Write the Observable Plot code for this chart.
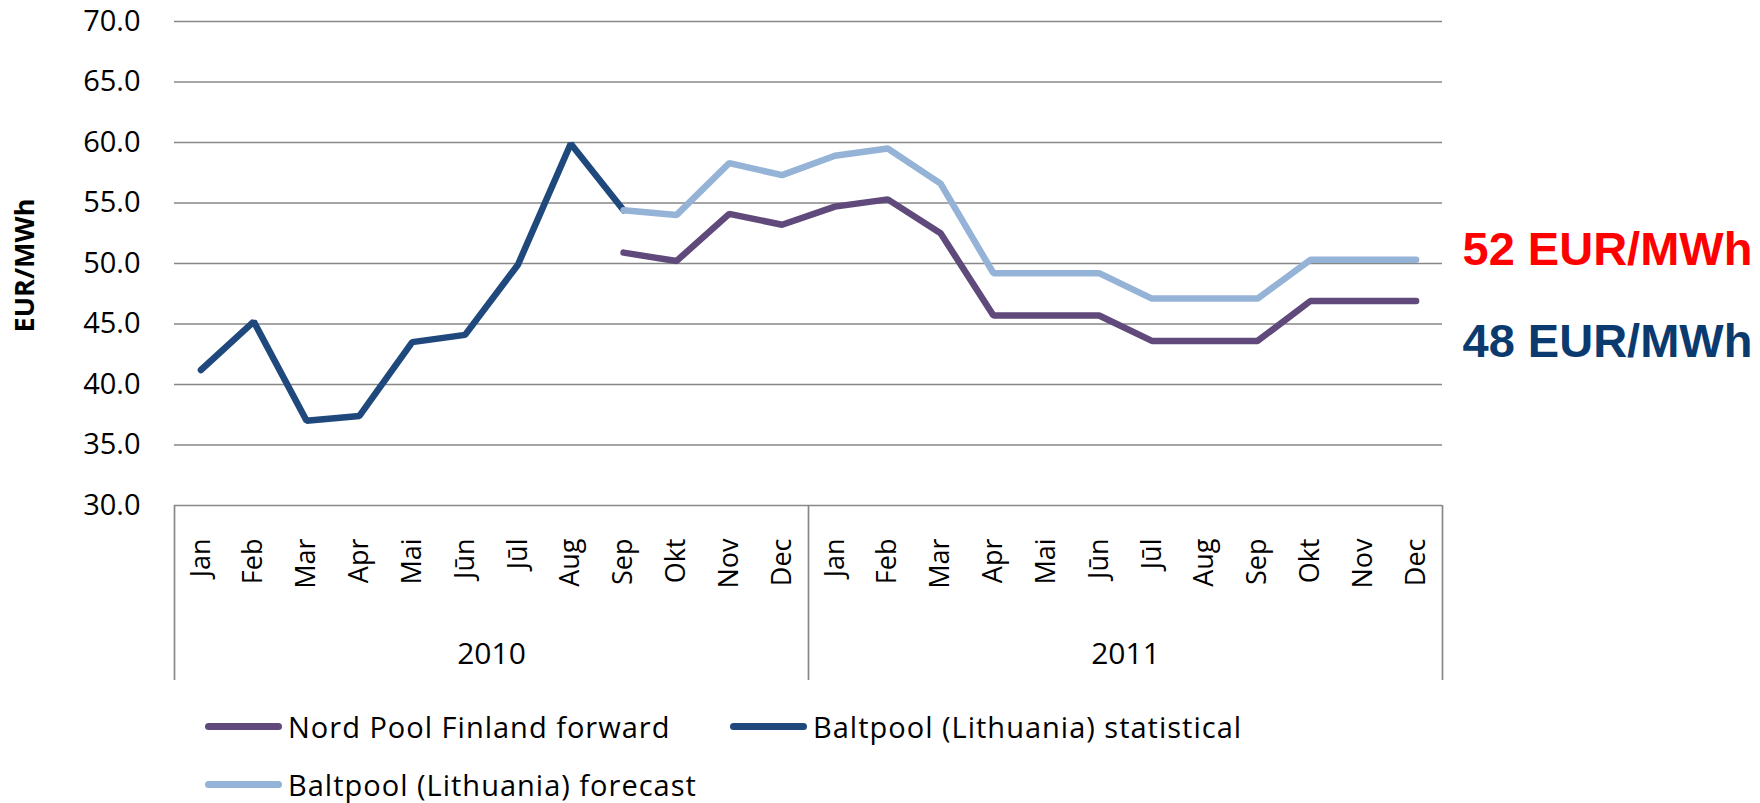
<!DOCTYPE html>
<html>
<head>
<meta charset="utf-8">
<script src="https://cdn.jsdelivr.net/npm/d3@7"></script>
<script src="https://cdn.jsdelivr.net/npm/@observablehq/plot@0.6"></script>
<style>
  html, body { margin: 0; padding: 0; background: #fff; }
  body { width: 1760px; height: 803px; overflow: hidden; font-family: "Open Sans", sans-serif; }
  #legend { position: relative; width: 1760px; height: 113px; }
  .item { position: absolute; display: flex; align-items: center; height: 40px; font-size: 29px; letter-spacing: 1px; color: #000; white-space: nowrap; }
  .sw { width: 77px; height: 7px; border-radius: 4px; margin-right: 6px; }
</style>
</head>
<body>
<div id="chart"></div>
<div id="legend"></div>
<script>
// ---- data ----
const months = ["Jan","Feb","Mar","Apr","Mai","Jūn","Jūl","Aug","Sep","Okt","Nov","Dec"];
const years = ["2010", "2011"];
const yTicks = [30, 35, 40, 45, 50, 55, 60, 65, 70];

// Baltpool (Lithuania) statistical: Jan 2010 – Sep 2010
const statisticalStart = 0;
const statistical = [41.2, 45.2, 37.0, 37.4, 43.5, 44.1, 49.9, 59.9, 54.4];
// Baltpool (Lithuania) forecast: Sep 2010 – Dec 2011
const forecastStart = 8;
const forecast = [54.4, 54.0, 58.3, 57.3, 58.9, 59.5, 56.6, 49.2, 49.2, 49.2, 47.1, 47.1, 47.1, 50.3, 50.3, 50.3];
// Nord Pool Finland forward: Sep 2010 – Dec 2011
const nordStart = 8;
const nordpool = [50.9, 50.2, 54.1, 53.2, 54.7, 55.3, 52.5, 45.7, 45.7, 45.7, 43.6, 43.6, 43.6, 46.9, 46.9, 46.9];

const seriesNames = ["Nord Pool Finland forward", "Baltpool (Lithuania) statistical", "Baltpool (Lithuania) forecast"];
const seriesColors = ["#604A7B", "#1F497D", "#95B3D7"];
const annotationRed = "52 EUR/MWh";
const annotationBlue = "48 EUR/MWh";
const yLabel = "EUR/MWh";

// ---- derived tables ----
const toRows = (vals, start) => vals.map((v, i) => ({i: start + i, v}));
const nordRows = toRows(nordpool, nordStart);
const statRows = toRows(statistical, statisticalStart);
const foreRows = toRows(forecast, forecastStart);
const monthIdx = d3.range(years.length * months.length);
const boundaries = d3.range(years.length + 1).map(k => k * months.length - 0.5);
const yearRows = years.map((y, k) => ({y, x: k * months.length + (months.length - 1) / 2}));

const lineStyle = {strokeWidth: 6.5, strokeLinecap: "round", strokeLinejoin: "miter"};
const annoFont = {textAnchor: "start", lineAnchor: "middle", fontSize: 47, fontWeight: "bold",
  fontFamily: "'Liberation Sans', Arial, sans-serif"};

const chart = Plot.plot({
  width: 1760,
  height: 690,
  marginLeft: 174,
  marginRight: 318,
  marginTop: 21,
  marginBottom: 185,
  style: {fontFamily: "'Open Sans', sans-serif", color: "#000", background: "#fff", overflow: "visible"},
  x: {domain: [-0.5, monthIdx.length - 0.5]},
  y: {domain: [d3.min(yTicks), d3.max(yTicks)]},
  marks: [
    Plot.ruleY(yTicks, {stroke: "#878787", strokeWidth: 1.7}),
    Plot.axisY({ticks: yTicks, tickFormat: d => d.toFixed(1), tickSize: 0, tickPadding: 34, fontSize: 29, label: null}),
    Plot.axisX({ticks: monthIdx, tickFormat: i => months[i % months.length], tickSize: 0, tickPadding: 33, tickRotate: -90, fontSize: 27, label: null}),
    Plot.ruleX(boundaries, {stroke: "#878787", strokeWidth: 1.7, insetTop: 484, insetBottom: -175}),
    Plot.text(yearRows, {x: "x", text: "y", frameAnchor: "bottom", dy: 149, fontSize: 30, lineAnchor: "middle", fill: "#000"}),
    Plot.lineY(nordRows, {x: "i", y: "v", stroke: seriesColors[0], ...lineStyle}),
    Plot.lineY(statRows, {x: "i", y: "v", stroke: seriesColors[1], ...lineStyle}),
    Plot.lineY(foreRows, {x: "i", y: "v", stroke: seriesColors[2], ...lineStyle}),
    Plot.text([annotationRed], {frameAnchor: "top-right", dx: 20, dy: 228, fill: "#FF0000", ...annoFont}),
    Plot.text([annotationBlue], {frameAnchor: "top-right", dx: 20, dy: 320, fill: "#0B3A6F", ...annoFont}),
    Plot.text([yLabel], {frameAnchor: "left", dx: -149, dy: 2, rotate: -90, textAnchor: "middle", lineAnchor: "middle",
      fontSize: 27, fontWeight: "bold", fill: "#000"})
  ]
});
document.getElementById("chart").appendChild(chart);

// ---- legend ----
const legendPos = [{left: 205, top: 16}, {left: 730, top: 16}, {left: 205, top: 74}];
const legend = document.getElementById("legend");
seriesNames.forEach((name, k) => {
  const it = document.createElement("div");
  it.className = "item";
  it.style.left = legendPos[k].left + "px";
  it.style.top = legendPos[k].top + "px";
  const sw = document.createElement("span");
  sw.className = "sw";
  sw.style.background = seriesColors[k];
  const tx = document.createElement("span");
  tx.textContent = name;
  it.appendChild(sw);
  it.appendChild(tx);
  legend.appendChild(it);
});
</script>
</body>
</html>
